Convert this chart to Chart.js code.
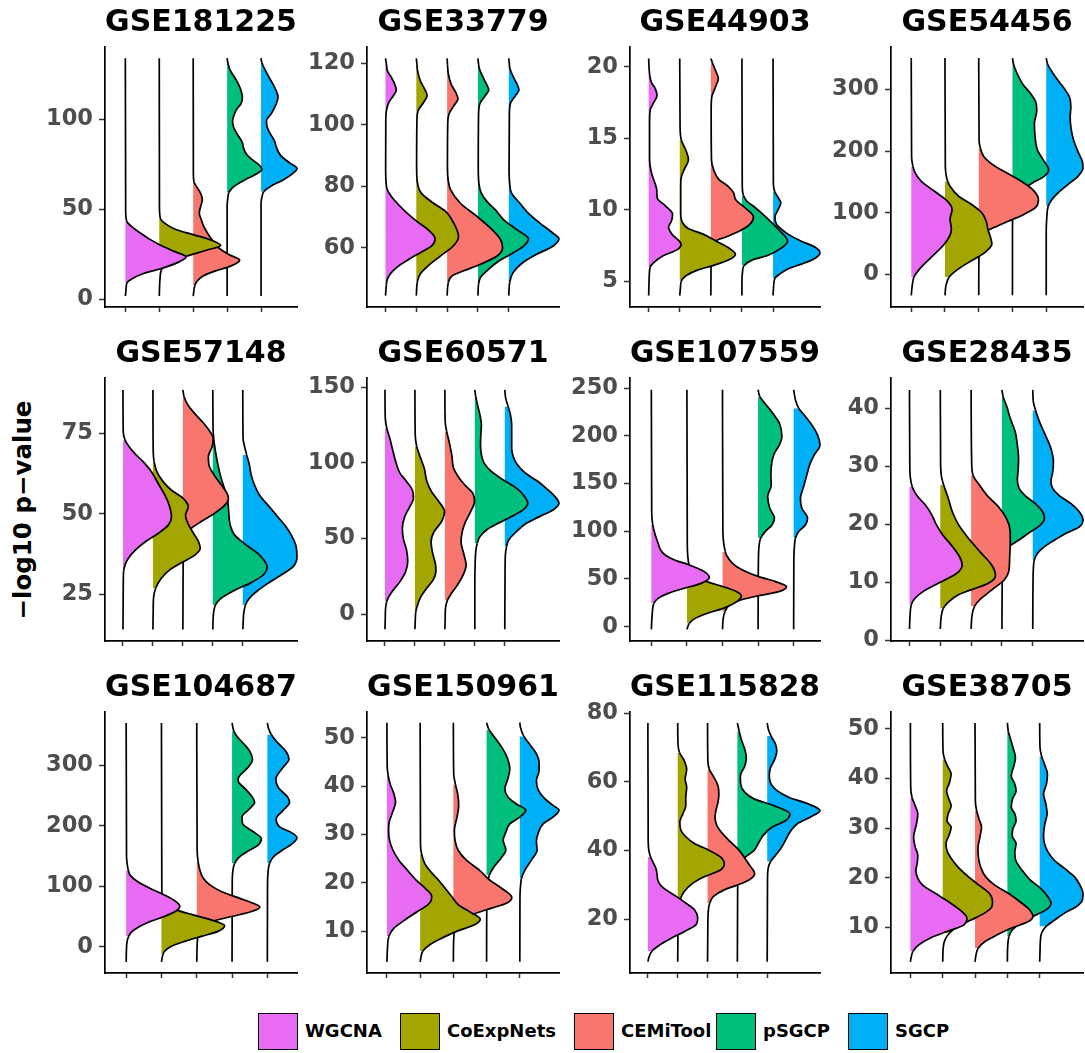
<!DOCTYPE html>
<html>
<head>
<meta charset="utf-8">
<script src="https://cdn.jsdelivr.net/npm/chart.js@4.4.1/dist/chart.umd.min.js"></script>
<style>
  body { margin: 0; width: 1085px; height: 1053px; background: #fff; position: relative; overflow: hidden; font-family: 'DejaVu Sans', sans-serif; }
  canvas.panel { position: absolute; }
  #ytitle { position: absolute; left: 22px; top: 510px; transform: translate(-50%, -50%) rotate(-90deg); font-weight: bold; font-size: 24.5px; color: #000; white-space: nowrap; }
  .key { position: absolute; top: 1013px; width: 38px; height: 35px; border: 1px solid #000; }
  .keytxt { position: absolute; top: 1020px; font-weight: bold; font-size: 18px; color: #000; white-space: nowrap; }
</style>
</head>
<body>
<div id="ytitle">−log10 p−value</div>
<script>
'use strict';

const methods = ['WGCNA', 'CoExpNets', 'CEMiTool', 'pSGCP', 'SGCP'];
const methodColors = ['#E76BF3', '#A3A500', '#F8766D', '#00BF7D', '#00B0F6'];

// each density: [value, half-width in category units], fill = [lo, hi] range that gets coloured
const d181225 = [
  [[1.8,0],[5.5,0.02],[9.2,0.05],[11.4,0.2],[14.3,0.54],[16.9,1.03],[20.2,1.52],[23.4,1.79],[26.7,1.42],[30.3,1.01],[33.5,0.7],[36.8,0.44],[40.4,0.18],[43.2,0.04],[47.8,0.01],[133.8,0]],
  [[1.8,0],[11,0.02],[16.2,0.06],[18.4,0.15],[21.1,0.41],[23.9,0.8],[27.2,1.39],[29.8,1.81],[33.1,1.49],[35.9,1.0],[38.6,0.51],[41.4,0.22],[45,0.03],[51.5,0.005],[133.8,0]],
  [[1.8,0],[7.7,0.05],[10.1,0.12],[12.9,0.29],[15.6,0.64],[18.4,1.1],[21.7,1.37],[24.8,1.05],[28.5,0.75],[33.1,0.55],[36.8,0.42],[40.4,0.31],[44.1,0.24],[47.8,0.18],[51.5,0.22],[55.1,0.27],[58.8,0.22],[62.5,0.1],[65.3,0.02],[69.9,0.005],[133.8,0]],
  [[1.8,0],[51.5,0],[56.1,0.02],[59.2,0.05],[61.6,0.14],[64.3,0.34],[67.1,0.61],[69.9,0.9],[72.1,1.03],[74.4,0.95],[77.6,0.73],[80.5,0.57],[83.6,0.49],[87.3,0.44],[91.9,0.29],[95.6,0.19],[98.9,0.16],[102,0.2],[105.7,0.29],[108.5,0.41],[111.8,0.45],[115.8,0.41],[119.5,0.33],[123.2,0.22],[126.8,0.1],[130.5,0.03],[133.8,0]],
  [[1.8,0],[53.3,0],[57,0.03],[59.7,0.08],[62.9,0.3],[66.2,0.65],[69.9,0.94],[72.6,1.06],[75.7,0.84],[80,0.57],[84.6,0.45],[88.2,0.39],[91.9,0.27],[95.6,0.18],[99.3,0.16],[102.9,0.3],[108.5,0.45],[112.1,0.5],[117.6,0.4],[124.1,0.21],[129.6,0.06],[131.5,0.02],[133.8,0]]
];
const f181225 = [[9.2,43.2],[16.2,45],[7.7,65.3],[59.2,130.5],[59.7,131.5]];
const y181225 = [-4.3, 140];
const t181225 = [0, 50, 100];

const d33779 = [
  [[44.4,0],[48.1,0.03],[49.8,0.06],[51.9,0.19],[54.1,0.43],[56.2,0.75],[58.4,1.13],[60.5,1.49],[62.9,1.61],[65.9,1.38],[68.6,1.02],[71.3,0.7],[74.5,0.38],[76.7,0.19],[78.9,0.06],[81,0.02],[86.4,0.005],[101.5,0.01],[104.7,0.03],[107.4,0.11],[109.6,0.26],[111.4,0.35],[113.3,0.3],[115.5,0.19],[117.7,0.06],[119.8,0.03],[121.7,0]],
  [[44.4,0],[49.2,0.04],[51.9,0.16],[54.1,0.38],[57.3,0.78],[60.5,1.19],[63.6,1.37],[68.1,1.21],[71.9,0.94],[74.5,0.56],[77.8,0.16],[81.6,0.03],[86.4,0.01],[101.5,0.02],[104.7,0.06],[107.4,0.24],[109.6,0.35],[111.7,0.27],[114.4,0.13],[117.7,0.04],[119.8,0.02],[121.7,0]],
  [[44.4,0],[48.7,0.04],[50.8,0.16],[52.5,0.54],[54.6,1.08],[57.3,1.62],[60,1.8],[62.7,1.73],[65.9,1.46],[70.2,0.97],[74.5,0.43],[78.9,0.11],[81.6,0.04],[86.4,0.01],[100.4,0.02],[103.6,0.06],[106.3,0.22],[108.5,0.35],[110.6,0.28],[113.3,0.13],[116.6,0.04],[119.8,0.01],[121.7,0]],
  [[44.4,0],[48.1,0.02],[50.3,0.08],[52.5,0.29],[55.2,0.61],[57.8,1.05],[60.5,1.48],[62.9,1.64],[65.9,1.26],[69.2,0.83],[72.4,0.56],[75.1,0.29],[77.8,0.11],[81,0.03],[86.4,0.01],[103.6,0.02],[106.9,0.06],[109.6,0.24],[111.4,0.35],[112.8,0.3],[115,0.19],[118.2,0.05],[119.8,0.02],[121.7,0]],
  [[44.4,0],[48.7,0.03],[51.9,0.14],[55.2,0.46],[57.8,0.89],[60.5,1.43],[62.9,1.63],[64.8,1.43],[68.1,1.0],[71.3,0.63],[74.5,0.36],[77.8,0.09],[81,0.03],[86.4,0.01],[103.6,0.02],[106.9,0.05],[109.6,0.22],[111.4,0.33],[112.8,0.29],[115,0.18],[118.2,0.04],[119.8,0.02],[121.7,0]]
];
const f33779 = [[48.1,119.8],[49.2,119.8],[48.7,119.8],[48.1,119.8],[48.7,119.8]];
const y33779 = [40.7, 125.4];
const t33779 = [60, 80, 100, 120];

const d44903 = [
  [[4.0,0],[5.4,0.02],[6.0,0.05],[6.3,0.16],[6.8,0.48],[7.2,0.91],[7.6,1.04],[8.3,0.75],[8.8,0.64],[9.2,0.73],[9.7,0.77],[10.3,0.53],[10.8,0.28],[11.4,0.26],[12.0,0.18],[12.6,0.09],[13.5,0.03],[16.3,0.03],[17.0,0.05],[17.5,0.16],[18.0,0.27],[18.5,0.21],[18.9,0.09],[19.5,0.03],[20.6,0]],
  [[4.0,0],[4.5,0.02],[5.0,0.05],[5.4,0.21],[5.8,0.59],[6.1,1.07],[6.5,1.58],[6.9,1.79],[7.3,1.6],[7.8,1.18],[8.3,0.75],[8.7,0.27],[9.1,0.09],[9.8,0.03],[11.7,0.03],[12.3,0.05],[12.9,0.16],[13.5,0.28],[14.1,0.21],[14.9,0.05],[15.8,0.01],[20.6,0]],
  [[4.0,0],[6.8,0.01],[7.4,0.03],[7.8,0.13],[8.1,0.48],[8.5,0.91],[9.0,1.26],[9.5,1.37],[10.2,1.07],[10.7,0.8],[11.2,0.73],[11.7,0.53],[12.1,0.27],[12.8,0.09],[13.5,0.02],[17.0,0.01],[17.9,0.03],[18.6,0.15],[19.2,0.24],[19.7,0.16],[20.3,0.05],[20.6,0]],
  [[4.0,0],[5.0,0],[5.7,0.02],[6.1,0.07],[6.5,0.34],[6.8,0.82],[7.3,1.25],[7.8,1.47],[8.7,1.14],[9.6,0.72],[10.2,0.4],[10.6,0.16],[11.0,0.05],[11.7,0.01],[20.6,0]],
  [[4.0,0],[4.7,0.02],[5.2,0.06],[5.5,0.21],[5.9,0.51],[6.2,0.91],[6.6,1.34],[7.0,1.51],[7.4,1.34],[7.8,0.91],[8.3,0.48],[8.7,0.24],[9.0,0.11],[9.5,0.06],[10.0,0.16],[10.5,0.25],[10.8,0.18],[11.3,0.05],[11.9,0.01],[20.6,0]]
];
const f44903 = [[6.0,19.5],[5.0,14.9],[7.8,20.3],[6.1,11.0],[5.2,11.3]];
const y44903 = [3.2, 21.4];
const t44903 = [5, 10, 15, 20];

const d54456 = [
  [[-33.8,0],[-17.7,0.03],[-4.3,0.08],[9.1,0.25],[27.9,0.59],[46.6,0.94],[62.7,1.14],[73.4,1.19],[89.5,1.15],[105.6,1.21],[119,1.07],[135,0.69],[151.1,0.3],[164.5,0.12],[175.2,0.05],[191.3,0.01],[351,0]],
  [[-33.8,0],[-17.7,0.03],[-4.3,0.12],[9.1,0.4],[22.5,0.79],[35.9,1.19],[49.3,1.39],[60,1.35],[73.4,1.27],[86.8,1.22],[100.2,1.09],[113.6,0.79],[127,0.4],[143.1,0.15],[151.1,0.08],[159.2,0.04],[175.2,0.01],[351,0]],
  [[-33.8,0],[41.3,0.01],[57.3,0.04],[68.1,0.15],[76.1,0.45],[86.8,0.89],[97.5,1.34],[108.3,1.68],[121.6,1.77],[137.7,1.6],[153.8,1.19],[169.9,0.66],[180.6,0.35],[191.3,0.15],[204.7,0.05],[218.1,0.01],[351,0]],
  [[-33.8,0],[68.1,0],[105.6,0.01],[121.6,0.03],[129.7,0.1],[137.7,0.3],[148.4,0.59],[159.2,0.94],[169.9,1.07],[186,0.91],[202,0.74],[223.5,0.67],[244.9,0.65],[266.3,0.72],[279.7,0.69],[293.1,0.54],[309.2,0.3],[330.7,0.1],[341.4,0.03],[351,0]],
  [[-33.8,0],[68.1,0],[94.9,0.02],[110.9,0.06],[121.6,0.17],[132.4,0.35],[145.8,0.64],[159.2,0.94],[172.6,1.09],[183.3,1.07],[199.4,0.94],[218.1,0.81],[239.5,0.73],[255.6,0.71],[271.7,0.73],[287.8,0.69],[301.2,0.54],[314.6,0.35],[330.7,0.15],[341.4,0.04],[351,0]]
];
const f54456 = [[-4.3,175.2],[-4.3,151.1],[68.1,204.7],[129.7,341.4],[110.9,341.4]];
const y54456 = [-52.7, 369];
const t54456 = [0, 100, 200, 300];

const d57148 = [
  [[14.1,0],[27.9,0.01],[32,0.02],[34.1,0.07],[36.2,0.18],[38.8,0.42],[41.4,0.76],[43.9,1.17],[46.5,1.51],[49.1,1.62],[52.2,1.56],[55.8,1.4],[59.5,1.17],[63.1,0.95],[66.2,0.67],[68.8,0.39],[70.9,0.2],[72.9,0.07],[75.5,0.01],[88.5,0]],
  [[14.1,0],[20.7,0.01],[23.8,0.02],[26.9,0.09],[30,0.28],[32.6,0.56],[35.1,1.01],[37.2,1.4],[39.3,1.58],[41.4,1.52],[43.9,1.36],[47,1.17],[49.6,1.09],[52.2,1.18],[54.8,1.01],[57.4,0.61],[60,0.34],[63.1,0.13],[66.2,0.04],[69.3,0.01],[88.5,0]],
  [[14.1,0],[36.2,0.01],[40.3,0.02],[43.4,0.09],[45.5,0.28],[47.6,0.61],[50.2,1.06],[52.7,1.4],[54.8,1.52],[56.4,1.47],[59,1.28],[62.1,1.04],[65.2,0.87],[67.8,0.85],[70.9,0.98],[73.4,1.01],[76,0.87],[78.6,0.65],[81.2,0.39],[83.8,0.17],[86.4,0.04],[88.5,0]],
  [[14.1,0],[17.5,0.01],[19.6,0.03],[21.7,0.09],[23.8,0.28],[26.3,0.73],[28.4,1.23],[31,1.68],[33.6,1.81],[37.2,1.56],[40.3,1.12],[43.4,0.73],[46.5,0.58],[50.7,0.53],[53.8,0.5],[56.9,0.42],[61,0.28],[65.2,0.17],[69.3,0.09],[73.4,0.03],[77.6,0.005],[88.5,0]],
  [[14.1,0],[15.5,0.01],[19.1,0.03],[21.7,0.09],[23.8,0.22],[25.8,0.45],[28.4,0.84],[31,1.28],[33.6,1.68],[36.7,1.81],[40.3,1.77],[43.4,1.62],[46.5,1.4],[49.6,1.12],[52.7,0.84],[55.8,0.56],[59,0.39],[62.1,0.28],[65.2,0.22],[68.3,0.13],[70.9,0.06],[73.4,0.01],[88.5,0]]
];
const f57148 = [[32,72.9],[26.9,66.2],[45.5,86.4],[21.7,73.4],[21.7,68.3]];
const y57148 = [10.5, 92.2];
const t57148 = [25, 50, 75];

const d60571 = [
  [[-9.9,0],[-2.6,0.01],[4,0.02],[8.4,0.06],[11.7,0.13],[16.1,0.28],[21.6,0.5],[28.2,0.69],[34.8,0.76],[42.5,0.72],[50.2,0.61],[56.8,0.58],[64.5,0.66],[71.1,0.83],[76.7,0.95],[81.1,0.93],[87.7,0.72],[93.2,0.5],[98.7,0.39],[107.5,0.27],[116.3,0.16],[122.9,0.06],[129.5,0.01],[148.2,0]],
  [[-9.9,0],[-4.8,0.01],[1.8,0.03],[6.2,0.09],[11.7,0.2],[17.2,0.39],[22.7,0.61],[28.2,0.7],[32.6,0.69],[41.4,0.58],[48,0.54],[54.6,0.64],[61.2,0.89],[67.8,0.99],[74.4,0.8],[81.1,0.55],[87.7,0.4],[96.5,0.31],[104.2,0.17],[110.8,0.06],[118.5,0.01],[148.2,0]],
  [[-9.9,0],[-2.6,0.01],[4,0.02],[9.5,0.09],[13.9,0.22],[19.4,0.42],[26,0.61],[32.6,0.71],[39.2,0.64],[48,0.54],[54.6,0.58],[61.2,0.69],[67.8,0.86],[74.4,0.99],[80,0.93],[85.5,0.66],[91,0.44],[96.5,0.29],[105.3,0.23],[114.1,0.14],[120.7,0.06],[127.3,0.01],[148.2,0]],
  [[-9.9,0],[19.4,0],[32.6,0.01],[41.4,0.03],[46.9,0.08],[51.3,0.17],[55.7,0.39],[60.1,0.78],[64.5,1.22],[68.9,1.61],[73.3,1.77],[77.8,1.66],[83.3,1.39],[88.8,0.94],[94.3,0.55],[99.8,0.31],[105.3,0.22],[111.9,0.19],[118.5,0.2],[125.1,0.22],[131.7,0.17],[138.3,0.09],[143.8,0.03],[148.2,0]],
  [[-9.9,0],[30.4,0.01],[39.2,0.02],[44.7,0.06],[49.1,0.13],[54.6,0.39],[60.1,0.72],[64.5,1.16],[68.9,1.61],[73.3,1.81],[76.7,1.72],[82.2,1.44],[87.7,1.11],[93.2,0.69],[98.7,0.42],[104.2,0.28],[109.7,0.23],[116.3,0.23],[125.1,0.23],[131.7,0.19],[137.2,0.11],[142.7,0.03],[148.2,0]]
];
const f60571 = [[8.4,122.9],[1.8,110.8],[9.5,120.7],[46.9,143.8],[44.7,137.2]];
const y60571 = [-17.6, 156];
const t60571 = [0, 50, 100, 150];

const d107559 = [
  [[-2.8,0],[5.2,0.01],[15.7,0.03],[24.5,0.07],[29.7,0.19],[34.9,0.47],[40.2,0.93],[45.4,1.4],[51.4,1.63],[57.7,1.49],[64.6,1.07],[69.9,0.65],[75.1,0.39],[80.4,0.26],[87.4,0.19],[96.1,0.11],[106.6,0.04],[120.5,0.01],[248.1,0]],
  [[-2.8,0],[3.5,0.07],[8.7,0.23],[14,0.58],[19.2,1.02],[26.2,1.4],[32.5,1.53],[36.7,1.4],[41.9,1.02],[47.2,0.56],[52.4,0.28],[61.1,0.09],[71.6,0.03],[89.1,0.01],[248.1,0]],
  [[-2.8,0],[8.7,0.02],[15.7,0.07],[22.7,0.2],[28,0.51],[32.5,1.02],[36.7,1.58],[41.9,1.8],[47.2,1.49],[52.4,1.02],[59.4,0.56],[66.4,0.28],[75.1,0.11],[78.6,0.08],[85.6,0.04],[99.6,0.01],[248.1,0]],
  [[-2.8,0],[71.6,0.01],[85.6,0.03],[92.6,0.07],[99.6,0.2],[106.6,0.39],[113.6,0.46],[124,0.33],[136.3,0.27],[148.5,0.37],[159,0.36],[173,0.39],[181.7,0.46],[190.4,0.6],[199.2,0.67],[213.1,0.6],[220.1,0.48],[227.1,0.34],[234.1,0.19],[241.1,0.05],[248.1,0]],
  [[-2.8,0],[71.6,0.005],[83.9,0.02],[92.6,0.05],[99.6,0.14],[106.6,0.33],[113.6,0.39],[124,0.23],[134.5,0.19],[146.8,0.28],[159,0.37],[169.5,0.45],[179.9,0.58],[190.4,0.74],[200.9,0.67],[211.4,0.51],[220.1,0.33],[228.9,0.14],[237.6,0.05],[248.1,0]]
];
const f107559 = [[24.5,106.6],[3.5,61.1],[15.7,78.6],[92.6,241.1],[92.6,228.9]];
const y107559 = [-15, 260.5];
const t107559 = [0, 50, 100, 150, 200, 250];

const d28435 = [
  [[2,0],[4.4,0.02],[6.2,0.06],[7.3,0.18],[8.7,0.51],[10.2,1.05],[11.6,1.53],[13,1.71],[14.5,1.62],[16.5,1.35],[18.2,1.08],[19.9,0.88],[21.7,0.72],[23.4,0.51],[25,0.24],[26.5,0.09],[28,0.03],[30.3,0.01],[43.2,0]],
  [[2,0],[4.2,0.03],[5.6,0.1],[6.7,0.27],[7.9,0.59],[8.7,0.97],[9.9,1.56],[11.2,1.79],[13,1.67],[15.3,1.29],[17.6,0.92],[19.9,0.6],[22.2,0.39],[24.5,0.26],[26.8,0.11],[28.2,0.04],[30.3,0.01],[43.2,0]],
  [[2,0],[4.4,0.03],[5.9,0.11],[7,0.27],[8.2,0.54],[9.3,0.81],[10.5,1.08],[11.9,1.22],[14.2,1.25],[17.1,1.27],[19.1,1.26],[21.1,1.14],[23.1,0.88],[25,0.52],[26.8,0.27],[28.5,0.06],[30.3,0.02],[43.2,0]],
  [[2,0],[11.9,0.01],[14.2,0.03],[15.3,0.09],[16.2,0.22],[17.3,0.54],[18.5,0.86],[19.9,1.24],[21.1,1.38],[22.2,1.32],[23.6,1.08],[25,0.75],[26.2,0.56],[27.7,0.5],[29.1,0.52],[31.4,0.54],[33.7,0.5],[36,0.43],[38.3,0.27],[40.3,0.16],[42,0.04],[43.2,0]],
  [[2,0],[10.8,0.01],[12.5,0.02],[13.9,0.05],[15,0.15],[16.2,0.38],[17.3,0.7],[18.5,1.08],[19.6,1.51],[20.8,1.63],[22.2,1.51],[23.6,1.24],[25,0.86],[26.2,0.65],[27.4,0.59],[29.1,0.65],[30.8,0.67],[33.1,0.59],[35.4,0.41],[37.7,0.22],[39.7,0.09],[41.1,0.02],[43.2,0]]
];
const f28435 = [[6.2,26.5],[5.6,26.8],[5.9,28.5],[16.2,42],[13.9,39.7]];
const y28435 = [-0.06, 45.25];
const t28435 = [0, 10, 20, 30, 40];

const d104687 = [
  [[-24.6,0],[6.6,0.02],[17.5,0.07],[25.7,0.17],[33.9,0.38],[42.1,0.68],[50.3,1.08],[58.5,1.39],[66.7,1.52],[74.9,1.41],[85.8,1.08],[96.7,0.68],[107.7,0.33],[118.6,0.11],[126.8,0.06],[132.2,0.04],[148.6,0.01],[370,0]],
  [[-24.6,0],[-12.6,0.04],[-7.1,0.09],[1.1,0.28],[9.3,0.66],[17.5,1.13],[25.7,1.6],[35,1.79],[44.8,1.41],[53,0.89],[61.2,0.42],[69.4,0.14],[80.3,0.04],[94,0.01],[370,0]],
  [[-24.6,0],[12,0.02],[25.7,0.06],[36.6,0.19],[43.7,0.52],[50.3,0.99],[58.5,1.55],[65.6,1.79],[72.1,1.6],[80.3,1.22],[91.3,0.71],[102.2,0.38],[113.1,0.19],[126.8,0.09],[140.4,0.04],[159.6,0.01],[370,0]],
  [[-24.6,0],[104.9,0.005],[124,0.02],[137.7,0.07],[148.6,0.21],[159.6,0.49],[167.8,0.73],[178.7,0.83],[192.3,0.55],[203.3,0.3],[214.2,0.28],[227.9,0.49],[238.8,0.64],[247,0.58],[260.7,0.38],[271.6,0.19],[277,0.17],[282.5,0.21],[296.2,0.45],[309.8,0.58],[323.5,0.5],[334.4,0.35],[345.4,0.17],[356.3,0.05],[370,0]],
  [[-24.6,0],[104.9,0.005],[124,0.02],[137.7,0.06],[148.6,0.17],[159.6,0.42],[170.5,0.71],[180.3,0.84],[188,0.71],[197.8,0.36],[211.5,0.25],[225.1,0.44],[238.8,0.63],[247,0.58],[263.4,0.31],[277,0.24],[296.2,0.44],[309.8,0.61],[323.5,0.52],[339.9,0.25],[350.8,0.11],[361.7,0.03],[370,0]]
];
const f104687 = [[17.5,126.8],[-12.6,69.4],[43.7,140.4],[137.7,356.3],[137.7,350.8]];
const y104687 = [-43, 388];
const t104687 = [0, 100, 200, 300];

const d150961 = [
  [[3.7,0],[6.9,0.02],[9,0.06],[10.7,0.22],[12.4,0.55],[14.1,0.92],[15.8,1.28],[17.2,1.35],[18.9,1.15],[20.6,0.88],[22.6,0.62],[24.7,0.36],[26.8,0.18],[28.8,0.08],[30.9,0.05],[32.6,0.07],[34.6,0.17],[36.7,0.26],[38.4,0.21],[40.4,0.1],[42.1,0.04],[43.8,0.01],[53.1,0]],
  [[3.7,0],[4.5,0.02],[5.9,0.08],[7.3,0.3],[8.6,0.65],[10,1.1],[11.4,1.65],[12.5,1.81],[13.8,1.55],[15.5,1.15],[17.2,0.95],[18.9,0.75],[20.6,0.55],[22.3,0.32],[24,0.14],[26.1,0.04],[28.1,0.01],[53.1,0]],
  [[3.7,0],[8.3,0.01],[10.3,0.04],[11.7,0.12],[12.7,0.35],[13.8,0.7],[14.8,1.15],[15.8,1.6],[17,1.76],[18.9,1.45],[20.6,1.09],[22.6,0.79],[24.7,0.39],[26.8,0.14],[28.8,0.05],[30.9,0.03],[33.6,0.11],[36,0.16],[38.4,0.13],[40.4,0.06],[42.5,0.01],[53.1,0]],
  [[3.7,0],[17.2,0.01],[19.9,0.03],[21.6,0.08],[23.3,0.22],[25,0.42],[26.8,0.58],[28.8,0.5],[30.5,0.58],[32.2,0.7],[33.6,1.0],[35,1.18],[36.3,0.9],[37.7,0.65],[39.4,0.55],[41.5,0.64],[43.5,0.7],[45.9,0.62],[47.9,0.47],[50,0.25],[51.7,0.07],[53.1,0]],
  [[3.7,0],[17.2,0.005],[19.2,0.02],[20.9,0.05],[22.6,0.15],[24.7,0.35],[26.8,0.52],[28.5,0.5],[30.2,0.55],[32.2,0.7],[33.6,1.0],[35,1.18],[36,1.0],[37.4,0.75],[39.1,0.56],[41.1,0.5],[43.2,0.58],[44.9,0.58],[46.9,0.48],[48.6,0.3],[50.3,0.12],[52.1,0.02],[53.1,0]]
];
const f150961 = [[9,42.1],[5.9,26.1],[13.8,40.4],[21.6,51.7],[20.9,50.3]];
const y150961 = [1.4, 55.3];
const t150961 = [10, 20, 30, 40, 50];

const d115828 = [
  [[7.6,0],[8.7,0.03],[10.7,0.14],[12.6,0.42],[14.5,0.8],[16.4,1.23],[18.4,1.62],[20.3,1.67],[22.7,1.56],[24.6,1.28],[26.6,0.95],[28.5,0.61],[29.9,0.42],[31.4,0.33],[32.8,0.31],[34.7,0.27],[37.1,0.14],[38.1,0.09],[40,0.03],[42.9,0.01],[77.1,0]],
  [[7.6,0],[18.8,0.01],[22.7,0.02],[25.6,0.08],[28,0.22],[30.4,0.5],[32.3,0.89],[34.3,1.43],[36.2,1.56],[38.1,1.43],[40,1.06],[42,0.56],[43.9,0.28],[45.8,0.11],[48.2,0.07],[50.6,0.17],[53,0.27],[55.5,0.27],[58.3,0.3],[60.8,0.25],[63.6,0.3],[66.1,0.22],[68.5,0.06],[70.9,0.01],[77.1,0]],
  [[7.6,0],[17.9,0.01],[21.7,0.02],[24.6,0.07],[26.6,0.2],[28.5,0.56],[29.9,1.0],[31.4,1.39],[33.3,1.58],[35.2,1.45],[37.6,1.26],[40,1.06],[42.4,0.78],[44.9,0.5],[47.3,0.31],[49.7,0.25],[51.6,0.28],[54,0.35],[56.4,0.38],[58.8,0.35],[61.2,0.22],[63.6,0.06],[66.1,0.01],[77.1,0]],
  [[7.6,0],[30.4,0.01],[34.3,0.03],[36.2,0.09],[38.1,0.28],[40,0.56],[42,0.7],[44.4,0.87],[46.8,1.17],[48.7,1.62],[50.6,1.76],[53,1.23],[55,0.56],[56.9,0.25],[59.3,0.11],[61.7,0.1],[64.6,0.25],[67,0.3],[69.4,0.25],[72.3,0.13],[74.7,0.06],[77.1,0]],
  [[7.6,0],[31.4,0.01],[34.7,0.03],[36.7,0.11],[38.6,0.28],[40.5,0.45],[42.9,0.61],[45.3,0.76],[47.7,1.0],[49.7,1.45],[51.6,1.77],[53.5,1.39],[55.5,0.72],[57.4,0.33],[59.3,0.13],[61.7,0.07],[64.1,0.11],[66.5,0.25],[68.9,0.32],[70.9,0.28],[73.3,0.13],[75.2,0.04],[77.1,0]]
];
const f115828 = [[10.7,38.1],[25.6,68.5],[24.6,63.6],[36.2,74.7],[36.7,73.3]];
const y115828 = [4.3, 80.3];
const t115828 = [20, 40, 60, 80];

const d38705 = [
  [[3.1,0],[3.9,0.02],[5.2,0.08],[6.5,0.26],[7.9,0.62],[9.2,1.13],[10.5,1.65],[11.9,1.75],[13.5,1.54],[15.2,1.18],[16.9,0.77],[18.5,0.39],[19.9,0.23],[21.5,0.17],[22.9,0.21],[24.5,0.23],[26.2,0.15],[28.2,0.1],[30.9,0.19],[32.9,0.23],[34.5,0.15],[36.2,0.05],[38.2,0.01],[51.2,0]],
  [[3.1,0],[6.2,0.02],[7.5,0.07],[8.9,0.21],[10.2,0.46],[11.5,0.87],[12.9,1.29],[14.2,1.52],[15.2,1.54],[16.9,1.44],[18.5,1.13],[20.2,0.8],[21.9,0.51],[23.5,0.31],[25.2,0.15],[26.9,0.1],[28.5,0.19],[30.2,0.26],[31.5,0.13],[32.9,0.17],[34.5,0.26],[35.9,0.19],[37.5,0.12],[39.2,0.21],[40.9,0.26],[42.5,0.15],[43.9,0.06],[45.5,0.01],[51.2,0]],
  [[3.1,0],[4.5,0.03],[5.9,0.1],[7.2,0.31],[8.5,0.67],[9.9,1.13],[11.2,1.65],[12.3,1.79],[13.5,1.7],[15.2,1.39],[16.9,1.03],[18.5,0.62],[20.2,0.33],[21.9,0.19],[23.9,0.11],[25.9,0.09],[28.2,0.15],[30.2,0.2],[31.9,0.12],[33.5,0.05],[35.5,0.01],[51.2,0]],
  [[3.1,0],[6.2,0.01],[8.2,0.05],[9.5,0.15],[10.9,0.41],[12.2,0.77],[13.5,1.18],[14.9,1.35],[16.2,1.25],[17.9,1.03],[19.5,0.72],[21.5,0.46],[23.5,0.26],[25.2,0.23],[26.9,0.27],[28.5,0.15],[29.9,0.17],[31.5,0.27],[32.9,0.23],[34.2,0.12],[35.9,0.16],[37.5,0.27],[38.9,0.23],[40.5,0.12],[42.5,0.2],[44.2,0.25],[45.9,0.19],[47.9,0.1],[49.5,0.03],[51.2,0]],
  [[3.1,0],[5.2,0.01],[7.2,0.02],[8.9,0.06],[10.2,0.19],[11.5,0.46],[12.9,0.77],[14.2,1.13],[15.5,1.32],[16.9,1.34],[18.5,1.25],[20.2,1.08],[21.9,0.77],[23.5,0.46],[25.2,0.26],[26.9,0.15],[28.5,0.12],[30.9,0.16],[32.9,0.23],[34.9,0.19],[36.9,0.12],[38.9,0.21],[40.9,0.24],[42.9,0.15],[44.5,0.06],[46.2,0.01],[51.2,0]]
];
const f38705 = [[5.2,36.2],[8.9,43.9],[5.9,33.5],[8.2,49.5],[10.2,44.5]];
const y38705 = [0.85, 53.4];
const t38705 = [10, 20, 30, 40, 50];

const panels = [
  { name: 'GSE181225', dens: d181225, fill: f181225, range: y181225, ticks: t181225 },
  { name: 'GSE33779', dens: d33779, fill: f33779, range: y33779, ticks: t33779 },
  { name: 'GSE44903', dens: d44903, fill: f44903, range: y44903, ticks: t44903 },
  { name: 'GSE54456', dens: d54456, fill: f54456, range: y54456, ticks: t54456 },
  { name: 'GSE57148', dens: d57148, fill: f57148, range: y57148, ticks: t57148 },
  { name: 'GSE60571', dens: d60571, fill: f60571, range: y60571, ticks: t60571 },
  { name: 'GSE107559', dens: d107559, fill: f107559, range: y107559, ticks: t107559 },
  { name: 'GSE28435', dens: d28435, fill: f28435, range: y28435, ticks: t28435 },
  { name: 'GSE104687', dens: d104687, fill: f104687, range: y104687, ticks: t104687 },
  { name: 'GSE150961', dens: d150961, fill: f150961, range: y150961, ticks: t150961 },
  { name: 'GSE115828', dens: d115828, fill: f115828, range: y115828, ticks: t115828 },
  { name: 'GSE38705', dens: d38705, fill: f38705, range: y38705, ticks: t38705 }
];

// plot-area edges on the page
const colEdges = [[105, 297], [367, 559], [630, 820], [891, 1083]];
const rowEdges = [[47, 307], [378, 641], [712, 973]];
const AXIS_W = 70;
const TITLE_H = 46;
const XAXIS_H = 20;

Chart.defaults.font.family = "'DejaVu Sans', sans-serif";

const clear = 'rgba(0,0,0,0)';

function violinSets(dens, fills) {
  return dens.map((prof, i) => {
    const cat = i + 1;
    const [lo, hi] = fills[i];
    const colour = methodColors[i];
    return {
      label: methods[i],
      data: prof.map(([v, w]) => ({ x: cat + w, y: v })),
      borderColor: '#000',
      borderWidth: 1.7,
      borderJoinStyle: 'round',
      pointRadius: 0,
      pointHoverRadius: 0,
      backgroundColor: clear,
      fill: { value: cat },
      cubicInterpolationMode: 'monotone',
      clip: false,
      segment: {
        backgroundColor: c => (prof[c.p0DataIndex][0] >= lo - 1e-9 && prof[c.p1DataIndex][0] <= hi + 1e-9) ? colour : clear
      }
    };
  });
}

panels.forEach((p, k) => {
  const [L, R] = colEdges[k % 4];
  const [T, B] = rowEdges[Math.floor(k / 4)];
  const cv = document.createElement('canvas');
  cv.className = 'panel';
  cv.width = R - L + AXIS_W + 4;
  cv.height = B - T + TITLE_H + XAXIS_H;
  cv.style.left = (L - AXIS_W) + 'px';
  cv.style.top = (T - TITLE_H) + 'px';
  document.body.appendChild(cv);

  let xMax = 0;
  p.dens.forEach((prof, i) => prof.forEach(([, w]) => { xMax = Math.max(xMax, i + 1 + w); }));

  new Chart(cv, {
    type: 'line',
    data: { datasets: violinSets(p.dens, p.fill) },
    options: {
      responsive: false,
      animation: false,
      indexAxis: 'y',
      events: [],
      layout: { padding: { right: 4 } },
      plugins: {
        legend: { display: false },
        tooltip: { enabled: false },
        title: {
          display: true,
          text: p.name,
          fullSize: false,
          color: '#000',
          font: { size: 30, weight: 'bold' },
          padding: { top: 4, bottom: 6 }
        }
      },
      scales: {
        x: {
          type: 'linear',
          min: 0.4,
          max: xMax,
          afterBuildTicks: s => { s.ticks = [1, 2, 3, 4, 5].map(v => ({ value: v })); },
          afterFit: s => { s.height = XAXIS_H; },
          ticks: { display: false },
          grid: { drawOnChartArea: false, drawTicks: true, tickLength: 5, tickColor: '#333', tickWidth: 1.5 },
          border: { display: true, color: '#000', width: 1.7 }
        },
        y: {
          type: 'linear',
          min: p.range[0],
          max: p.range[1],
          afterBuildTicks: s => { s.ticks = p.ticks.map(v => ({ value: v })); },
          afterFit: s => { s.width = AXIS_W; },
          ticks: { color: '#4D4D4D', font: { size: 22.5, weight: 'bold' }, padding: 6 },
          grid: { drawOnChartArea: false, drawTicks: true, tickLength: 6, tickColor: '#333', tickWidth: 1.5 },
          border: { display: true, color: '#000', width: 1.7 }
        }
      }
    }
  });
});

// legend along the bottom
const keyLefts = [258, 400, 574, 716, 848];
methods.forEach((m, i) => {
  const key = document.createElement('div');
  key.className = 'key';
  key.style.left = keyLefts[i] + 'px';
  key.style.background = methodColors[i];
  document.body.appendChild(key);
  const txt = document.createElement('div');
  txt.className = 'keytxt';
  txt.style.left = (keyLefts[i] + 47) + 'px';
  txt.textContent = m;
  document.body.appendChild(txt);
});
</script>
</body>
</html>
